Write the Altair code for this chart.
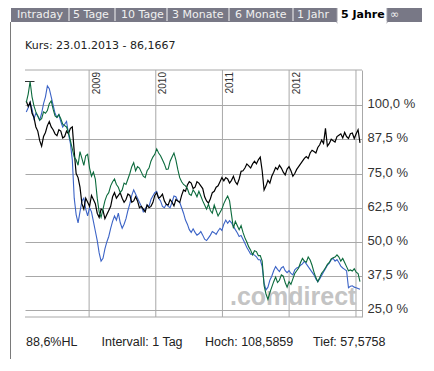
import altair as alt
import pandas as pd

# ---------------- data ----------------
# main readings every 21 days and the in-between readings (10.5 days later)
dates = pd.date_range("2008-01-23", periods=175, freq="252h")

black_main = [101.5, 101, 95.5, 90.5, 85, 90, 94, 91, 88.8, 90.5,
              88.5, 89.5, 92, 75, 70, 62, 64.5, 67, 64, 59,
              61.5, 60, 63, 68, 67, 66, 65.5, 67, 65, 65,
              63, 61, 62.5, 64.4, 68, 66.5, 65, 63.5, 64.5, 65.5,
              64.4, 69, 70.8, 71.5, 70, 71.5, 69.5, 65, 65.8, 68.5,
              70.5, 73.5, 73.5, 71.5, 74, 71, 75.8, 77, 77.8, 78.5,
              78.5, 81, 69, 72.5, 74, 77.2, 78, 75.5, 76.6, 76,
              75, 77.5, 79.5, 81.2, 82.5, 83, 84.5, 87.2, 91.5, 86,
              87, 88.5, 89.5, 90, 87.8, 89.8, 89.5, 86.2]
black_mid = [99.5, 97, 92, 87, 88.5, 92.5, 92, 89.5, 91, 88,
             90.5, 91.5, 83, 73.5, 64, 66, 63, 65.5, 60.5, 62,
             58.5, 61.5, 66.5, 66, 68, 64.5, 67.5, 64.5, 66.5, 62.5,
             62, 63.5, 63, 67, 66, 67.5, 63.8, 65.5, 63.2, 65,
             67, 68.5, 72, 69.5, 72, 70.5, 66.5, 64.2, 68, 70,
             72, 72.3, 73, 72.5, 72, 73, 76, 78.5, 77, 79.5,
             80, 76, 70.5, 71.5, 75.5, 76.5, 77, 74.5, 77.5, 74,
             76.5, 78.5, 80.5, 80.5, 83.5, 82.5, 85.5, 86, 85, 87.5,
             86.5, 89, 88, 88.5, 89.5, 87.8, 91]

green_main = [101, 108.6, 99.7, 96, 95, 97, 100.5, 98.5, 95.5, 95,
              92.5, 90, 84, 80, 83, 78, 82, 74, 73, 61,
              62, 67, 70.5, 73, 70, 69, 71, 75, 79, 77.5,
              75.5, 73.5, 77, 81, 84, 81.5, 78.5, 76.6, 81, 80,
              73.5, 71, 69.5, 67, 68, 68.5, 65, 62, 61.5, 63.5,
              59.5, 62, 65.5, 65, 55, 56, 56, 51.5, 48.2, 45.3,
              46.5, 45, 34, 29, 33.5, 37.2, 36, 37.5, 33.5, 34.5,
              38.5, 40.5, 44, 42.6, 43.4, 39, 35.5, 38.6, 40.6, 42.5,
              44.2, 45.3, 43, 42.5, 39.5, 39.4, 39, 35.5]
green_mid = [104, 103, 97.5, 94.5, 97.5, 98, 101.5, 96, 96.5, 93,
             92, 87, 81, 78, 80.5, 81.5, 77, 75.5, 66, 59,
             65, 68, 72, 71, 68, 71.5, 73, 77.5, 76, 77,
             74, 76, 79.5, 82, 82.5, 80, 76.5, 79.5, 82.5, 76.5,
             72, 70.5, 67.5, 69, 66.5, 66.8, 63.5, 63.8, 60.5, 61.5,
             60.8, 64, 66.8, 60, 57.5, 54.5, 53.5, 50, 47, 46.8,
             45, 43, 31, 31.5, 35.5, 35.2, 38, 35.2, 35.5, 36.5,
             39.5, 42.5, 43, 44.5, 41.5, 37, 37, 39.5, 41.8, 43.8,
             44.5, 44.5, 44, 41, 39.8, 40.2, 38.5]

blue_main = [97.5, 101, 95, 96, 97, 103, 106, 100, 95.5, 94,
             93, 89.5, 80, 60, 61, 66, 59.5, 61, 54, 46,
             44, 50, 55, 59.5, 60.5, 55, 58.5, 64, 69, 66,
             63, 62, 63, 66.8, 68.5, 65, 62.5, 63, 64.5, 66.5,
             64.5, 60.5, 56.5, 53.5, 53.5, 53, 52.5, 50.5, 52.5, 53.4,
             54, 54.2, 58, 57.8, 55.7, 53.4, 52.4, 49.5, 46.8, 45.5,
             44.6, 43.5, 35, 33.5, 37.5, 41, 39.2, 41, 38.8, 38.5,
             39.8, 40.8, 42, 42, 40, 38, 35.5, 37.8, 40.2, 42.3,
             44, 43.6, 41.2, 40, 33.3, 34, 33.3, 32.7]
blue_mid = [99, 98.5, 97, 94.5, 100.5, 107, 103, 97, 96.5, 92,
            94, 86, 66, 57, 65, 62, 62.5, 57.5, 50.5, 43,
            47.5, 52, 57.5, 58, 57, 56.5, 61.5, 67, 67.5, 64.5,
            61, 63.5, 65.5, 68, 66, 63, 63.8, 62.5, 66.8, 65,
            62.5, 58, 54.5, 54.8, 52.5, 53.8, 51, 51.5, 53.8, 52.8,
            55, 56.5, 56.8, 57, 54.5, 52, 51, 48, 45.5, 45.2,
            43.5, 41, 32.5, 36, 39.5, 40, 40.5, 39.5, 39.5, 38,
            40.5, 41.5, 43, 41, 39, 36.5, 36.5, 39, 41.5, 43.5,
            43, 42.5, 40.5, 39.5, 33.8, 33.5, 33]

year_lines = ["2009-01-01", "2010-01-01", "2011-01-01", "2012-01-01", "2013-01-01"]
year_labels = ["2009", "2010", "2011", "2012"]
y_ticks = [25, 37.5, 50, 62.5, 75, 87.5, 100]
high_mark = 108.6
high_mark_span = ["2008-01-16", "2008-03-08"]

tab_labels = ["Intraday", "5 Tage", "10 Tage", "3 Monate", "6 Monate", "1 Jahr", "5 Jahre", "\u221e"]
selected_tab = "5 Jahre"
kurs_text = "Kurs: 23.01.2013 - 86,1667"
footer_texts = ["88,6%HL", "Intervall: 1 Tag", "Hoch: 108,5859", "Tief: 57,5758"]
watermark = ".comdirect"

# ---------------- style / layout ----------------
W, H = 337, 247
GRID = "#a8a8a8"
C_BLACK, C_GREEN, C_BLUE = "#000000", "#0b6a3c", "#3b63c6"
SANS = "Liberation Sans"
VERD = "DejaVu Sans"

xs = alt.Scale(domain=[alt.DateTime(year=2008, month=1, date=16),
                       alt.DateTime(year=2013, month=2, date=3)])
ys = alt.Scale(domain=[22.6, 112.8], nice=False, zero=False)

yaxis = alt.Axis(orient="right", values=y_ticks, grid=True, gridColor=GRID, gridWidth=1,
                 ticks=False, domain=True, domainColor=GRID, labelPadding=5,
                 labelFont=SANS, labelFontSize=13, labelColor="#333333", labelOffset=-1.5,
                 labelExpr="replace(format(datum.value, '.1f'), '.', ',') + ' %'", title=None)

one = alt.Data(values=[{"k": 0}])


def interleave(main, mid):
    out = []
    for i, v in enumerate(main):
        out.append(v)
        if i < len(mid):
            out.append(mid[i])
    return out


def series_df(main, mid):
    return pd.DataFrame({"date": dates, "value": interleave(main, mid)})


def rule(x, x2, y, y2, color, width=1):
    return alt.Chart(one).mark_rule(color=color, strokeWidth=width).encode(
        x=alt.value(x), x2=alt.value(x2), y=alt.value(y), y2=alt.value(y2))


def label(text, x, y, size, color, font, weight="normal", align="left", baseline="middle"):
    return alt.Chart(one).mark_text(
        text=text, fontSize=size, color=color, font=font, fontWeight=weight,
        align=align, baseline=baseline).encode(x=alt.value(x), y=alt.value(y))


layers = []

# grid: years
yl = pd.DataFrame({"date": pd.to_datetime(year_lines)})
layers.append(alt.Chart(yl).mark_rule(color=GRID, strokeWidth=1).encode(
    x=alt.X("date:T", scale=xs, axis=None), y=alt.value(0), y2=alt.value(H)))

# tab bar
layers.append(alt.Chart(one).mark_rect(color="#787886").encode(
    x=alt.value(-14), x2=alt.value(401), y=alt.value(-63), y2=alt.value(-48)))
layers.append(alt.Chart(one).mark_rect(fill="white", stroke="#9a9aa4", strokeWidth=1).encode(
    x=alt.value(312), x2=alt.value(362), y=alt.value(-66), y2=alt.value(-47)))
layers.append(alt.Chart(one).mark_rect(fill="white").encode(
    x=alt.value(312.5), x2=alt.value(361.5), y=alt.value(-49), y2=alt.value(-46)))
for sx in [44, 90, 142, 204, 268]:
    layers.append(rule(sx, sx, -62, -49, "#f4f4f4"))
tab_x = [-8, 48, 96, 147, 210, 272, 316, 365]
for t, tx in zip(tab_labels, tab_x):
    sel = t == selected_tab
    layers.append(label(t, tx, -55.5, 11, "#000000" if sel else "#f0f0f0", VERD,
                        weight="bold" if sel else "normal"))

# frame
layers.append(rule(-14.5, -14.5, -48, 294, "#7a7a7a"))
layers.append(rule(401.5, 401.5, -48, 294, "#7a7a7a"))
layers.append(rule(-14.5, 401.5, 294, 294, "#7a7a7a"))

# header and footer texts
layers.append(label(kurs_text, 0, -24.5, 11, "#222222", VERD))
for t, fx in zip(footer_texts, [1, 76.5, 180, 288]):
    layers.append(label(t, fx, 272, 12.5, "#222222", SANS))

# watermark
layers.append(label(watermark, 205, 235, 25, "#c4c4c4", SANS, weight="bold", baseline="alphabetic"))

ylab = pd.DataFrame({"date": pd.to_datetime(year_lines[:4]), "label": year_labels})
layers.append(alt.Chart(ylab).mark_text(
    angle=270, align="right", baseline="top", fontSize=10, font=SANS, color="#333333", dy=2.5
).encode(x=alt.X("date:T", scale=xs, axis=None), y=alt.value(2), text="label:N"))

# top and bottom border lines
layers.append(rule(0, W, 0, 0, GRID))
layers.append(rule(0, W, H, H, GRID))

# high marker
hm = pd.DataFrame({"d1": [pd.Timestamp(high_mark_span[0])],
                   "d2": [pd.Timestamp(high_mark_span[1])], "v": [high_mark]})
layers.append(alt.Chart(hm).mark_rule(color="#333333", strokeWidth=1).encode(
    x=alt.X("d1:T", scale=xs, axis=None), x2="d2:T", y=alt.Y("v:Q", scale=ys, axis=yaxis)))

# series
for main, mid, col, sw in [(blue_main, blue_mid, C_BLUE, 1.1),
                           (black_main, black_mid, C_BLACK, 1.2),
                           (green_main, green_mid, C_GREEN, 1.1)]:
    layers.append(alt.Chart(series_df(main, mid)).mark_line(color=col, strokeWidth=sw).encode(
        x=alt.X("date:T", scale=xs, axis=None), y=alt.Y("value:Q", scale=ys, axis=yaxis)))

chart = alt.layer(*layers).properties(
    width=W, height=H,
    padding={"left": 17, "top": 62, "right": 60, "bottom": 42},
    autosize=alt.AutoSizeParams(type="none"),
    background="white",
).configure_view(stroke=None)

chart.save("out.html", embed_options={"renderer": "svg", "actions": False})
